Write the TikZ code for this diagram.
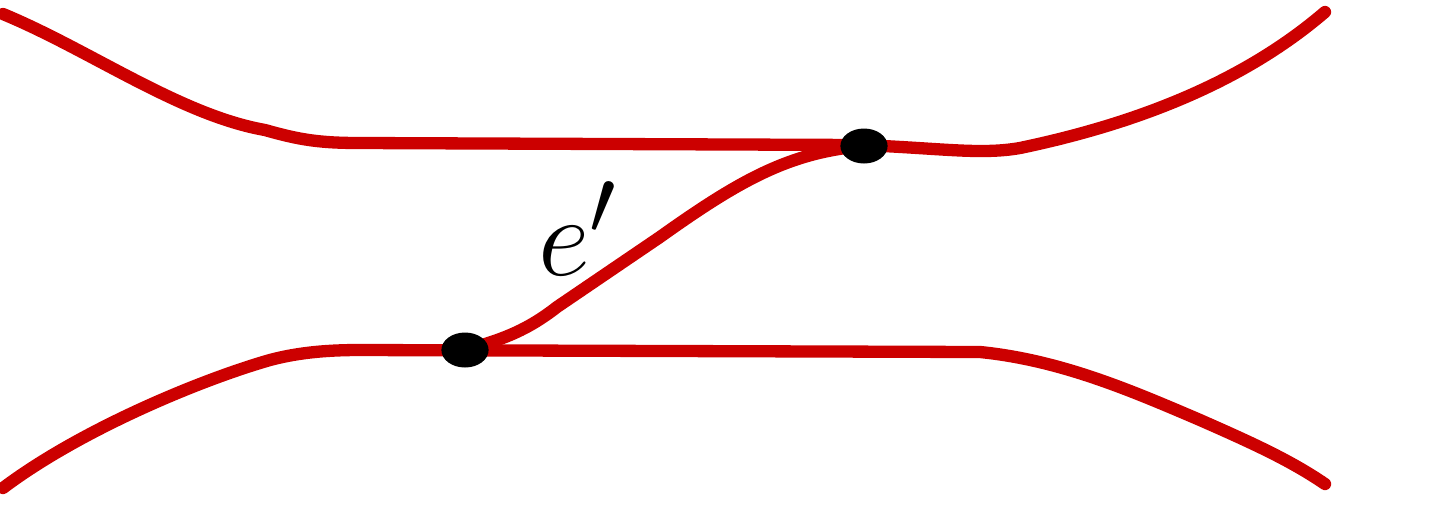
\documentclass[tikz,border=0pt]{standalone}
\usepackage{tikz}
\usetikzlibrary{positioning}

\begin{document}
\begin{tikzpicture}[
      x=0.02cm, y=-0.02cm,
      red_style/.style={draw=red!80!black, line width=7pt, line cap=round, line join=round},
      dot/.style={circle, fill=black, minimum size=0.7cm, inner sep=0pt, xscale=1.35},
      lbl/.style={font=\Huge, scale=2.6}
  ]
  \useasboundingbox (0, 0) rectangle (1434, 505);

  % 1. Ramo superiore
  \draw[red_style] (3, 14) .. controls (90, 50) and (180, 115) .. (265, 130)
    .. controls (300, 140) and (320, 143) .. (360, 143)
    -- (860, 145)
    .. controls (940, 148) and (980, 155) .. (1020, 148)
    .. controls (1130, 125) and (1240, 85) .. (1325, 12);

  % 2. Ramo inferiore
  \draw[red_style] (3, 488) .. controls (80, 430) and (200, 380) .. (270, 360)
    .. controls (300, 352) and (330, 350) .. (360, 350)
    -- (980, 352)
    .. controls (1060, 360) and (1130, 390) .. (1200, 420)
    .. controls (1250, 442) and (1290, 460) .. (1325, 484);

  % 3. Lato e'
  \coordinate (bottom_pt) at (465, 350);
  \coordinate (top_pt) at (864, 146);
  \draw[red_style] (bottom_pt) .. controls (500, 340) and (525, 332) .. (557, 307)
    -- (660, 237)
    .. controls (740, 180) and (790, 152) .. (top_pt);
  \node[lbl] (e_lbl) at (578, 229) {$e'$};

  % 4. Punti
  \node[dot] (bottom_dot) at (bottom_pt) {};
  \node[dot] (top_dot) at (top_pt) {};

\end{tikzpicture}
\end{document}
